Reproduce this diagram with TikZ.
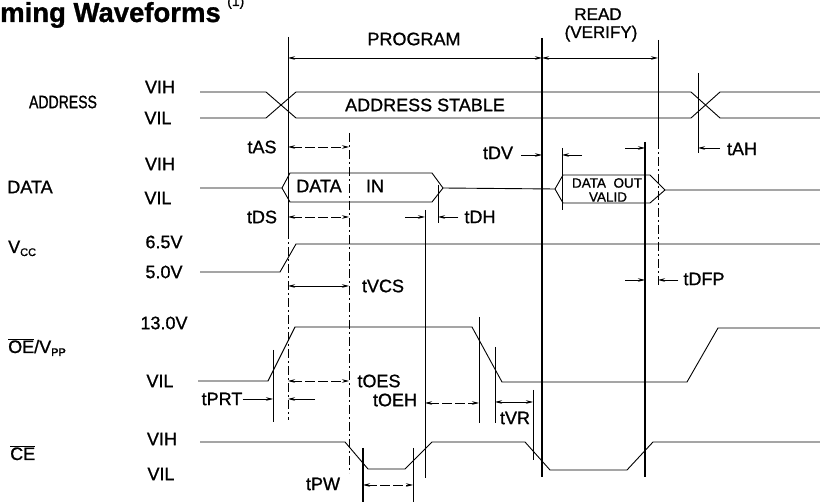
\documentclass[tikz,border=0pt]{standalone}
\usepackage{fontspec}
\setmainfont{Liberation Sans}[FakeBold=1]
\newfontfamily\narrowfont[FakeStretch=0.78, FakeBold=1]{Liberation Sans}
\usetikzlibrary{arrows.meta}

\begin{document}
\begin{tikzpicture}[
x=1pt, y=-1pt,
sig/.style={line width=0.9pt},
guide/.style={line width=0.7pt},
heavy/.style={line width=1.5pt},
dashguide/.style={line width=0.7pt, dash pattern=on 9pt off 3pt on 2pt off 3pt},
dim/.style={line width=0.7pt, {Stealth[length=7pt,width=3.5pt]}-{Stealth[length=7pt,width=3.5pt]}},
dimto/.style={line width=0.7pt, -{Stealth[length=7pt,width=3.5pt]}},
lbl/.style={font=\fontsize{18}{20}\selectfont, inner sep=0pt},
small/.style={font=\fontsize{13.5}{14}\selectfont, inner sep=0pt}
]
\path[fill=white, use as bounding box] (0,0) rectangle (820,502);
%Title
\node[anchor=base west, inner sep=0pt, font=\bfseries\fontsize{27.5}{30}\selectfont] (title) at (0,22) {ming Waveforms};
\node[anchor=base west, inner sep=0pt, font=\fontsize{14}{14}\selectfont] (note) at (227,6) {(1)};
%Signal names
\node[lbl, font=\narrowfont\fontsize{18}{20}\selectfont] (lAddr) at (63,102) {ADDRESS};
\node[lbl] (aVIH) at (160,87) {VIH};
\node[lbl] (aVIL) at (158,118) {VIL};
\node[lbl] (lData) at (30,187) {DATA};
\node[lbl] (dVIH) at (160,164) {VIH};
\node[lbl] (dVIL) at (158,198) {VIL};
\node[lbl, anchor=base west] (lVcc) at (8,253) {V\raisebox{-3pt}{\fontsize{11}{12}\selectfont CC}};
\node[lbl] (v65) at (164,242) {6.5V};
\node[lbl] (v50) at (164,272) {5.0V};
\node[lbl, anchor=base west] (lOE) at (8,353) {$\overline{\hbox{OE}}$/V\raisebox{-3pt}{\fontsize{11}{12}\selectfont PP}};
\node[lbl] (v130) at (164,323) {13.0V};
\node[lbl] (oVIL) at (160,381) {VIL};
\node[lbl, anchor=base west] (lCE) at (10,460) {$\overline{\hbox{CE}}$};
\node[lbl] (cVIH) at (162,439) {VIH};
\node[lbl] (cVIL) at (161,474) {VIL};
%Time marks
\coordinate (tPrt) at (273,0);
\coordinate (tStart) at (288,0);
\coordinate (tOes) at (349,0);
\coordinate (tPwA) at (363,0);
\coordinate (tPwB) at (413,0);
\coordinate (tDhA) at (425,0);
\coordinate (tDhB) at (438,0);
\coordinate (tOeh) at (479,0);
\coordinate (tVrA) at (495,0);
\coordinate (tVrB) at (533,0);
\coordinate (tEnd) at (542,0);
\coordinate (tValid) at (562,0);
\coordinate (tFloat) at (645,0);
\coordinate (tRead) at (658,0);
\coordinate (tHold) at (698,0);
%Waveforms
\draw[sig] (200,92) -- (266,92) -- (296,118) -- (691,118) -- (720,92) -- (820,92);
\draw[sig] (200,118) -- (266,118) -- (296,92) -- (691,92) -- (720,118) -- (820,118);
\draw[sig] (200,188) -- (282,188) -- (290,173) -- (432,173) -- (443,188) -- (555,189) -- (563,175) -- (650,175) -- (665,190) -- (820,190);
\draw[sig] (282,188) -- (290,202) -- (432,202) -- (443,188);
\draw[sig] (555,189) -- (563,203) -- (650,203) -- (665,190);
\draw[sig] (200,272) -- (280,272) -- (296,244) -- (820,244);
\draw[sig] (198,381) -- (268,381) -- (295,327) -- (472,327) -- (502,382) -- (687,382) -- (718,328) -- (820,328);
\draw[sig] (200,442) -- (345,442) -- (368,469) -- (405,469) -- (432,442) -- (525,442) -- (550,470) -- (627,470) -- (653,442) -- (820,442);
%Vertical lines
\draw[guide] (tStart |- 0,37) -- (tStart |- 0,230);
\draw[dashguide] (tStart |- 0,230) -- (tStart |- 0,420);
\draw[dashguide] (tOes |- 0,133) -- (tOes |- 0,473);
\draw[guide] (tPrt |- 0,350) -- (tPrt |- 0,422);
\draw[heavy] (tPwA |- 0,448) -- (tPwA |- 0,502);
\draw[guide] (tPwB |- 0,448) -- (tPwB |- 0,502);
\draw[guide] (tDhA |- 0,210) -- (tDhA |- 0,478);
\draw[guide] (tDhB |- 0,185) -- (tDhB |- 0,223);
\draw[guide] (tOeh |- 0,317) -- (tOeh |- 0,423);
\draw[guide] (tVrA |- 0,347) -- (tVrA |- 0,423);
\draw[guide] (tVrB |- 0,390) -- (tVrB |- 0,460);
\draw[heavy] (tEnd |- 0,38) -- (tEnd |- 0,477);
\draw[guide] (tValid |- 0,148) -- (tValid |- 0,210);
\draw[heavy] (tFloat |- 0,142) -- (tFloat |- 0,477);
\draw[guide] (tRead |- 0,40) -- (tRead |- 0,140);
\draw[dashguide] (tRead |- 0,140) -- (tRead |- 0,287);
\draw[guide] (tHold |- 0,73) -- (tHold |- 0,153);
%Texts on the waveforms
\node[lbl] (program) at (414,39) {PROGRAM};
\node[lbl, font=\fontsize{17}{20}\selectfont, anchor=base] (read) at (598,20) {READ};
\node[lbl, font=\fontsize{17}{20}\selectfont, anchor=base] (verify) at (601,38) {(VERIFY)};
\node[lbl] (stable) at (425,105) {ADDRESS STABLE};
\node[lbl] (din) at (319,186) {DATA};
\node[lbl] (dinB) at (375,186) {IN};
\node[small] (dout) at (607,183) {DATA\ \ OUT};
\node[small] (doutB) at (608,197) {VALID};
%Timing labels
\node[lbl] (nAS) at (262,147) {tAS};
\node[lbl] (nDS) at (262,217) {tDS};
\node[lbl] (nDV) at (498,153) {tDV};
\node[lbl] (nAH) at (742,149) {tAH};
\node[lbl] (nDH) at (480,217) {tDH};
\node[lbl] (nVCS) at (383,286) {tVCS};
\node[lbl] (nDFP) at (704,279) {tDFP};
\node[lbl] (nPRT) at (222,399) {tPRT};
\node[lbl] (nOES) at (379,381) {tOES};
\node[lbl] (nOEH) at (395,400) {tOEH};
\node[lbl] (nVR) at (515,418) {tVR};
\node[lbl] (nPW) at (323,484) {tPW};
%Arrows
\draw[dim] (tStart |- 0,58) -- (tEnd |- 0,58);
\draw[dim] (tEnd |- 0,58) -- (tRead |- 0,58);
\draw[dim, dash pattern=on 10pt off 3pt] (tStart |- 0,147) -- (tOes |- 0,147);
\draw[dim, dash pattern=on 10pt off 3pt] (tStart |- 0,217) -- (tOes |- 0,217);
\draw[dimto] (nDV.east) ++(8,2) -- (tEnd |- 0,155);
\draw[dimto] (582,155) -- (tValid |- 0,155);
\draw[dimto] (625,148) -- (tFloat |- 0,148);
\draw[dimto] (720,148) -- (tHold |- 0,148);
\draw[dimto] (405,217) -- (tDhA |- 0,217);
\draw[dimto] (nDH.west) ++(-6,0) -- (tDhB |- 0,217);
\draw[dim] (tStart |- 0,286) -- (tOes |- 0,286);
\draw[dimto] (625,280) -- (tFloat |- 0,280);
\draw[dimto] (nDFP.west) ++(-5,1) -- (tRead |- 0,280);
\draw[dimto] (nPRT.east) -- (tPrt |- 0,399);
\draw[dimto] (315,399) -- (tStart |- 0,399);
\draw[dim, dash pattern=on 10pt off 3pt] (tStart |- 0,381) -- (tOes |- 0,381);
\draw[dim, dash pattern=on 10pt off 3pt] (tDhA |- 0,403) -- (tOeh |- 0,403);
\draw[dim] (tVrA |- 0,402) -- (tVrB |- 0,402);
\draw[dim, dash pattern=on 10pt off 3pt] (tPwA |- 0,485) -- (tPwB |- 0,485);
\end{tikzpicture}
\end{document}
